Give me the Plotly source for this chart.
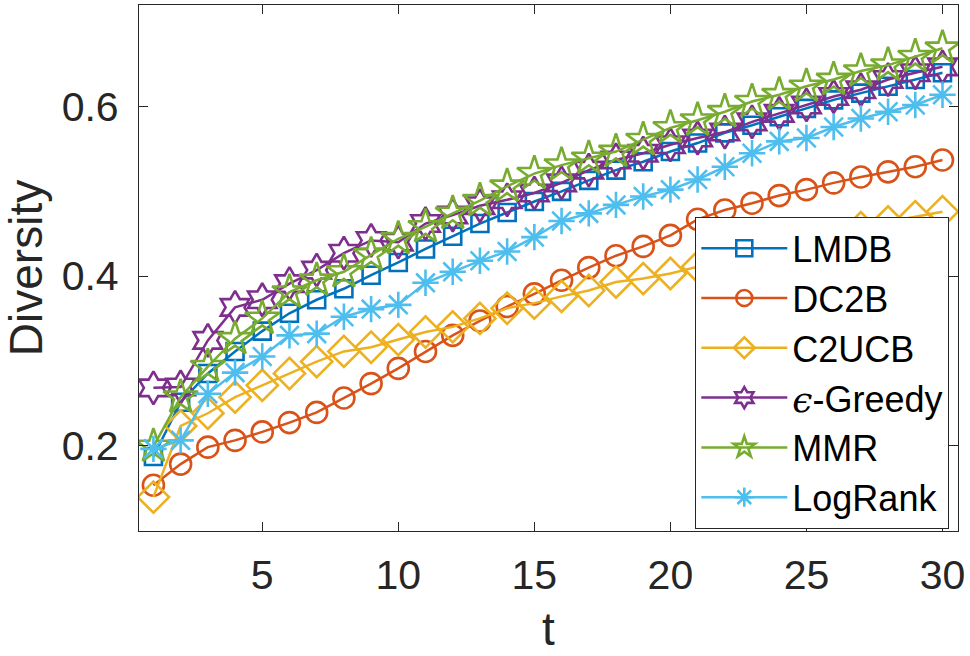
import plotly.graph_objects as go

# diversity over rounds t = 1..30
t = list(range(1, 31))

LMDB = [0.187, 0.251, 0.285, 0.311, 0.335, 0.356, 0.372, 0.385, 0.401, 0.416,
        0.432, 0.447, 0.462, 0.475, 0.488, 0.500, 0.513, 0.525, 0.535, 0.547,
        0.557, 0.569, 0.578, 0.588, 0.598, 0.608, 0.616, 0.624, 0.632, 0.640]
DC2B = [0.153, 0.178, 0.198, 0.206, 0.216, 0.227, 0.239, 0.256, 0.273, 0.291,
        0.311, 0.330, 0.347, 0.364, 0.379, 0.395, 0.410, 0.424, 0.435, 0.448,
        0.467, 0.478, 0.486, 0.495, 0.502, 0.510, 0.517, 0.523, 0.529, 0.537]
C2UCB = [0.139, 0.223, 0.238, 0.257, 0.271, 0.285, 0.299, 0.311, 0.316, 0.325,
         0.334, 0.340, 0.350, 0.362, 0.368, 0.376, 0.383, 0.393, 0.397, 0.403,
         0.411, 0.419, 0.426, 0.434, 0.441, 0.449, 0.457, 0.464, 0.470, 0.476]
EGREEDY = [0.268, 0.269, 0.324, 0.363, 0.372, 0.391, 0.407, 0.427, 0.442, 0.440,
           0.462, 0.472, 0.483, 0.490, 0.498, 0.510, 0.525, 0.537, 0.545, 0.555,
           0.563, 0.570, 0.582, 0.592, 0.602, 0.612, 0.620, 0.632, 0.640, 0.647]
MMR = [0.199, 0.257, 0.293, 0.326, 0.350, 0.381, 0.395, 0.405, 0.425, 0.444,
       0.458, 0.474, 0.489, 0.506, 0.521, 0.531, 0.539, 0.547, 0.561, 0.575,
       0.584, 0.594, 0.606, 0.614, 0.624, 0.632, 0.642, 0.649, 0.659, 0.669]
LOGRANK = [0.196, 0.206, 0.261, 0.286, 0.305, 0.330, 0.332, 0.352, 0.361, 0.366,
           0.392, 0.405, 0.418, 0.429, 0.446, 0.465, 0.474, 0.484, 0.494, 0.502,
           0.514, 0.529, 0.545, 0.559, 0.563, 0.576, 0.586, 0.594, 0.602, 0.614]

x_ticks = [5, 10, 15, 20, 25, 30]
y_ticks = [0.2, 0.4, 0.6]

FONT = "Liberation Sans, Arial, Helvetica, sans-serif"
AX = "#262626"

# name, values, colour, symbol, marker size
series = [
    ("LMDB", LMDB, "#0072BD", "square-open", 17),
    ("DC2B", DC2B, "#D95319", "circle-open", 21),
    ("C2UCB", C2UCB, "#EDB120", "diamond-open", 24),
    ('<span style="font-family:DejaVu Serif"><i>ϵ</i></span>-Greedy', EGREEDY,
     "#7E2F8E", "hexagram-open", 25),
    ("MMR", MMR, "#77AC30", "star-open", 26),
    ("LogRank", LOGRANK, "#4DBEEE", "asterisk-open", 22),
]

fig = go.Figure()
for name, vals, col, sym, sz in series:
    fig.add_trace(go.Scatter(
        x=t, y=vals, name=name, mode="lines+markers",
        line=dict(color=col, width=2.5),
        marker=dict(symbol=sym, size=sz, color=col,
                    line=dict(color=col, width=2.6)),
    ))

fig.update_layout(
    width=970, height=656,
    margin=dict(l=139, r=12, t=5, b=125),
    paper_bgcolor="white", plot_bgcolor="white",
    font=dict(family=FONT, color=AX),
    legend=dict(
        x=0.989, xanchor="right", y=0.597, yanchor="top",
        bgcolor="white", bordercolor=AX, borderwidth=1.3,
        font=dict(size=36, color="black"), itemwidth=86, tracegroupgap=0,
    ),
)
fig.update_xaxes(
    range=[0.47, 30.57], tickvals=x_ticks, ticks="inside", ticklen=9,
    tickcolor=AX, tickwidth=1.3, showline=True, linecolor=AX, linewidth=1.3,
    mirror="ticks", showgrid=False, zeroline=False, automargin=False,
    tickfont=dict(size=41), ticklabelstandoff=8,
    title=dict(text="t", font=dict(size=46), standoff=15),
)
fig.update_yaxes(
    range=[0.099, 0.72], tickvals=y_ticks, ticks="inside", ticklen=9,
    tickcolor=AX, tickwidth=1.3, showline=True, linecolor=AX, linewidth=1.3,
    mirror="ticks", showgrid=False, zeroline=False, automargin=False,
    tickfont=dict(size=41), ticklabelstandoff=11,
    title=dict(text="Diversity", font=dict(size=46), standoff=6),
)

# page body has a default 8px margin; drop it so the figure sits at 0,0
fig.write_html("out.html", config={"displayModeBar": False},
               post_script="document.body.style.margin='0';")
